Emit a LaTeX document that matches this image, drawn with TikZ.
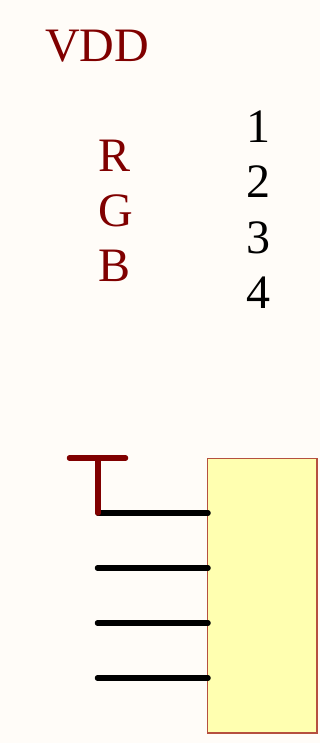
\documentclass[tikz,border=0pt]{standalone}
\usepackage{fontspec}
\setmainfont{Liberation Serif}
\usetikzlibrary{positioning}
\definecolor{pagebg}{HTML}{FFFCF8}
\definecolor{netred}{HTML}{800000}
\definecolor{partfill}{HTML}{FFFFB0}
\definecolor{partline}{HTML}{B5503F}

\begin{document}
\begin{tikzpicture}[x=1pt,y=-1pt,
                    every node/.append style={inner sep=0pt,outer sep=0pt,anchor=base west,font=\fontsize{48}{48}\selectfont},
                    netlabel/.style={text=netred},
                    pinlabel/.style={text=black},
                    wire/.style={line width=5.5pt,line cap=round,black},
                    rail/.style={line width=5.5pt,line cap=round,netred}]

\fill[pagebg] (0,0) rectangle (320,743);
\useasboundingbox (0,0) rectangle (320,743);

\node[draw=partline,fill=partfill,line width=1.3pt,minimum width=109.5pt,minimum height=274.5pt,anchor=north west] (part) at (207.5,458.5) {};

\node[netlabel] (vdd) at (45,61.5) {VDD};
\node[netlabel] (r) at (98,171.5) {R};
\node[netlabel] (g) at (98,226.5) {G};
\node[netlabel] (b) at (98,281.5) {B};
\node[pinlabel] (n1) at (246,143) {1};
\node[pinlabel] (n2) at (246,198) {2};
\node[pinlabel] (n3) at (246,253) {3};
\node[pinlabel] (n4) at (246,308) {4};

\coordinate (railL) at (69.5,458);
\coordinate (railR) at (125.5,458);
\coordinate (railM) at (98,458);
\coordinate (w1) at (98,513);
\coordinate (w2) at (97.5,568);
\coordinate (w3) at (97.5,623);
\coordinate (w4) at (97.5,678);
\coordinate (p1) at (208,513);
\coordinate (p2) at (208,568);
\coordinate (p3) at (208,623);
\coordinate (p4) at (208,678);

\draw[wire] (w1) -- (p1);
\draw[wire] (w2) -- (p2);
\draw[wire] (w3) -- (p3);
\draw[wire] (w4) -- (p4);
\draw[rail] (railL) -- (railR);
\draw[rail] (railM) -- (w1);

\end{tikzpicture}
\end{document}
